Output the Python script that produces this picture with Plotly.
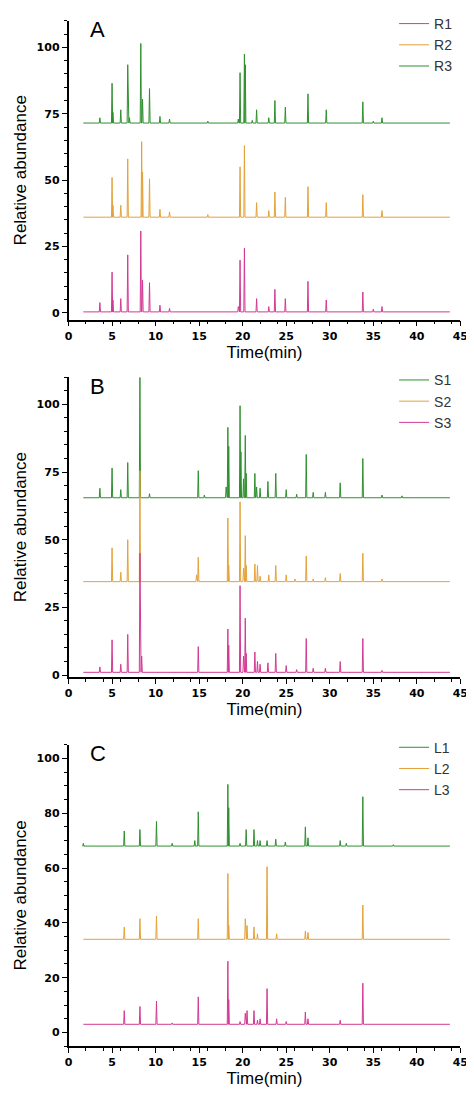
import plotly.graph_objects as go

W, H = 474, 1094
GREEN, ORANGE, MAGENTA = "#2f8f2f", "#e3a23a", "#d23a93"
T_START, T_END = 1.7, 43.8

# panel A (baseline offsets and peaks: time [min], height above baseline)
r1_base = 0.3
r1_t = [3.6, 5.0, 5.1, 6.0, 6.8, 8.3, 8.5, 9.3, 10.5, 11.6, 19.5, 19.7, 20.2, 21.6, 23.0, 23.7, 24.9, 27.5, 29.6, 33.8, 35.0, 36.0]
r1_h = [3.5, 15, 4.5, 5, 21.5, 30.5, 12, 11, 2.5, 1.3, 2, 19.5, 24, 5, 2, 8.5, 5, 11.5, 4.5, 7.5, 1, 2]
r2_base = 36
r2_t = [5.0, 5.1, 6.0, 6.8, 8.4, 8.5, 9.3, 10.5, 11.6, 16.0, 19.7, 20.2, 21.6, 23.0, 23.7, 24.9, 27.5, 29.6, 33.8, 36.0]
r2_h = [15, 4.5, 4.5, 22, 28.5, 17, 14.5, 3, 2, 1, 19, 27, 5.5, 2.5, 9.5, 7.5, 11.5, 5.5, 8.5, 2.5]
r3_base = 71.5
r3_t = [3.6, 5.0, 5.1, 6.0, 6.8, 7.0, 8.3, 8.5, 9.3, 10.5, 11.6, 16.0, 19.5, 19.7, 20.2, 20.3, 21.1, 21.6, 23.0, 23.7, 24.9, 27.5, 29.6, 33.8, 35.0, 36.0]
r3_h = [2, 15, 4, 5, 22, 2, 30, 9, 13, 2.5, 1.5, 0.7, 1.5, 19, 26, 22, 1, 5, 2, 8.5, 6, 11, 5, 8, 0.7, 2]

# panel B
s1_base = 65.5
s1_t = [3.6, 5.0, 6.0, 6.8, 8.2, 9.3, 14.9, 15.6, 18.1, 18.3, 18.4, 19.7, 19.8, 20.1, 20.3, 20.4, 21.4, 21.6, 22.0, 22.9, 23.8, 25.0, 26.2, 27.3, 28.1, 29.5, 31.2, 33.8, 36.0, 38.3]
s1_h = [3.5, 11, 3, 13, 44.5, 1.5, 10, 1, 4, 26, 19, 34, 17, 7, 23, 9, 9, 4, 3.5, 6, 9, 3, 1.3, 16, 2, 2, 5.5, 14.5, 1, 0.7]
s2_base = 34.5
s2_t = [5.0, 6.0, 6.8, 8.2, 14.7, 14.9, 18.3, 18.4, 19.7, 20.1, 20.3, 20.4, 21.4, 21.7, 22.0, 23.0, 23.8, 25.0, 26.0, 27.3, 28.1, 29.5, 31.2, 33.8, 36.0]
s2_h = [12.5, 3.5, 15.5, 41, 2.5, 9, 23.5, 6, 29.5, 5, 17, 6, 6.5, 6, 2, 2.5, 6, 2.5, 1, 9.5, 1, 1.5, 3, 10.5, 1]
s3_base = 1
s3_t = [3.6, 5.0, 6.0, 6.8, 8.2, 8.4, 14.9, 18.3, 18.4, 19.7, 20.1, 20.3, 20.4, 21.4, 21.7, 22.0, 22.9, 23.8, 25.0, 26.2, 27.3, 28.1, 29.5, 31.2, 33.8, 36.0]
s3_h = [2, 12, 3, 14, 44, 6, 9.5, 16, 10, 32, 6, 20, 7, 7.5, 4, 3, 3.5, 7, 2.5, 1, 12.5, 1.5, 1.5, 4, 12.5, 0.7]

# panel C
l1_base = 68
l1_t = [1.7, 6.4, 8.2, 10.1, 11.9, 14.5, 14.9, 18.3, 18.4, 19.7, 20.4, 21.3, 21.7, 22.0, 22.8, 23.8, 24.9, 27.2, 27.5, 31.2, 31.9, 33.8, 37.3]
l1_h = [1, 5.5, 6, 9, 1, 2, 12.5, 22.5, 14, 1, 6, 6, 2, 2, 2, 2.5, 1.5, 7, 3, 2, 1, 18, 0.5]
l2_base = 34
l2_t = [6.4, 8.2, 10.1, 14.9, 18.3, 18.4, 20.3, 20.5, 21.3, 21.7, 22.8, 23.9, 27.2, 27.5, 33.8]
l2_h = [4.5, 7.5, 8.5, 7.5, 24, 5, 7.5, 5, 4.5, 2, 26.5, 2, 3, 2.5, 12.5]
l3_base = 3
l3_t = [6.4, 8.2, 10.1, 11.9, 14.9, 18.3, 18.4, 19.7, 20.3, 20.5, 21.3, 21.7, 22.0, 22.8, 23.9, 25.0, 27.2, 27.5, 31.2, 33.8]
l3_h = [5, 6.5, 8.5, 0.5, 10, 23, 9, 1, 4, 5, 5, 1.5, 2, 13, 2, 1, 4.5, 2, 1.5, 15]


def spikes(times, heights, base, hw=0.07):
    x, y = [T_START], [base]
    for t, h in sorted(zip(times, heights)):
        x += [t - hw, t, t + hw]
        y += [base, base + h, base]
    x.append(T_END)
    y.append(base)
    return x, y


panels = [
    ("A", [("R1", r1_t, r1_h, r1_base, MAGENTA), ("R2", r2_t, r2_h, r2_base, ORANGE), ("R3", r3_t, r3_h, r3_base, GREEN)],
     (13, 313), [-2.6, 110], [0, 25, 50, 75, 100]),
    ("B", [("S1", s1_t, s1_h, s1_base, GREEN), ("S2", s2_t, s2_h, s2_base, ORANGE), ("S3", s3_t, s3_h, s3_base, MAGENTA)],
     (371, 672), [-0.7, 110], [0, 25, 50, 75, 100]),
    ("C", [("L1", l1_t, l1_h, l1_base, GREEN), ("L2", l2_t, l2_h, l2_base, ORANGE), ("L3", l3_t, l3_h, l3_base, MAGENTA)],
     (740, 1043), [-5, 105], [0, 20, 40, 60, 80, 100]),
]

fig = go.Figure()
x_dom = [58 / W, 460 / W]
axis_style = dict(showline=True, linecolor="black", linewidth=1.5, ticks="outside",
                  tickcolor="black", ticklen=5, showgrid=False, zeroline=False,
                  tickfont=dict(family="DejaVu Sans", size=11, color="black", weight=700),
                  minor=dict(ticks="outside", ticklen=3, tickcolor="black"))

for i, (letter, series, (top, bot), yr, yt) in enumerate(panels):
    n = "" if i == 0 else str(i + 1)
    leg = "legend" + n
    for name, t, h, base, col in series:
        x, y = spikes(t, h, base)
        fig.add_trace(go.Scatter(x=x, y=y, mode="lines", name=name, line=dict(color=col, width=1),
                                 xaxis="x" + n, yaxis="y" + n, legend=leg))
    fig.update_layout({
        "xaxis" + n: dict(domain=x_dom, range=[0, 45], tickvals=list(range(0, 50, 5)), anchor="y" + n,
                          title=dict(text="Time(min)", font=dict(size=17, color="black"), standoff=4), **axis_style),
        "yaxis" + n: dict(domain=[1 - bot / H, 1 - top / H], range=yr, tickvals=yt, anchor="x" + n,
                          title=dict(text="Relative abundance", font=dict(size=17, color="black"), standoff=6), **axis_style),
        leg: dict(x=392 / W, y=1 - (top - 13) / H, xanchor="left", yanchor="top", bgcolor="rgba(0,0,0,0)",
                  font=dict(size=14, color="#333"), tracegroupgap=0, itemwidth=30),
    })
    fig.add_annotation(text=letter, x=88 / W, y=1 - (top + 9) / H, xref="paper", yref="paper",
                       xanchor="center", yanchor="middle", showarrow=False, font=dict(size=22, color="black"))

fig.update_layout(width=W, height=H, margin=dict(l=0, r=0, t=0, b=0), plot_bgcolor="white",
                  paper_bgcolor="white", font=dict(family="Liberation Sans"))
fig.write_html("out.html")
